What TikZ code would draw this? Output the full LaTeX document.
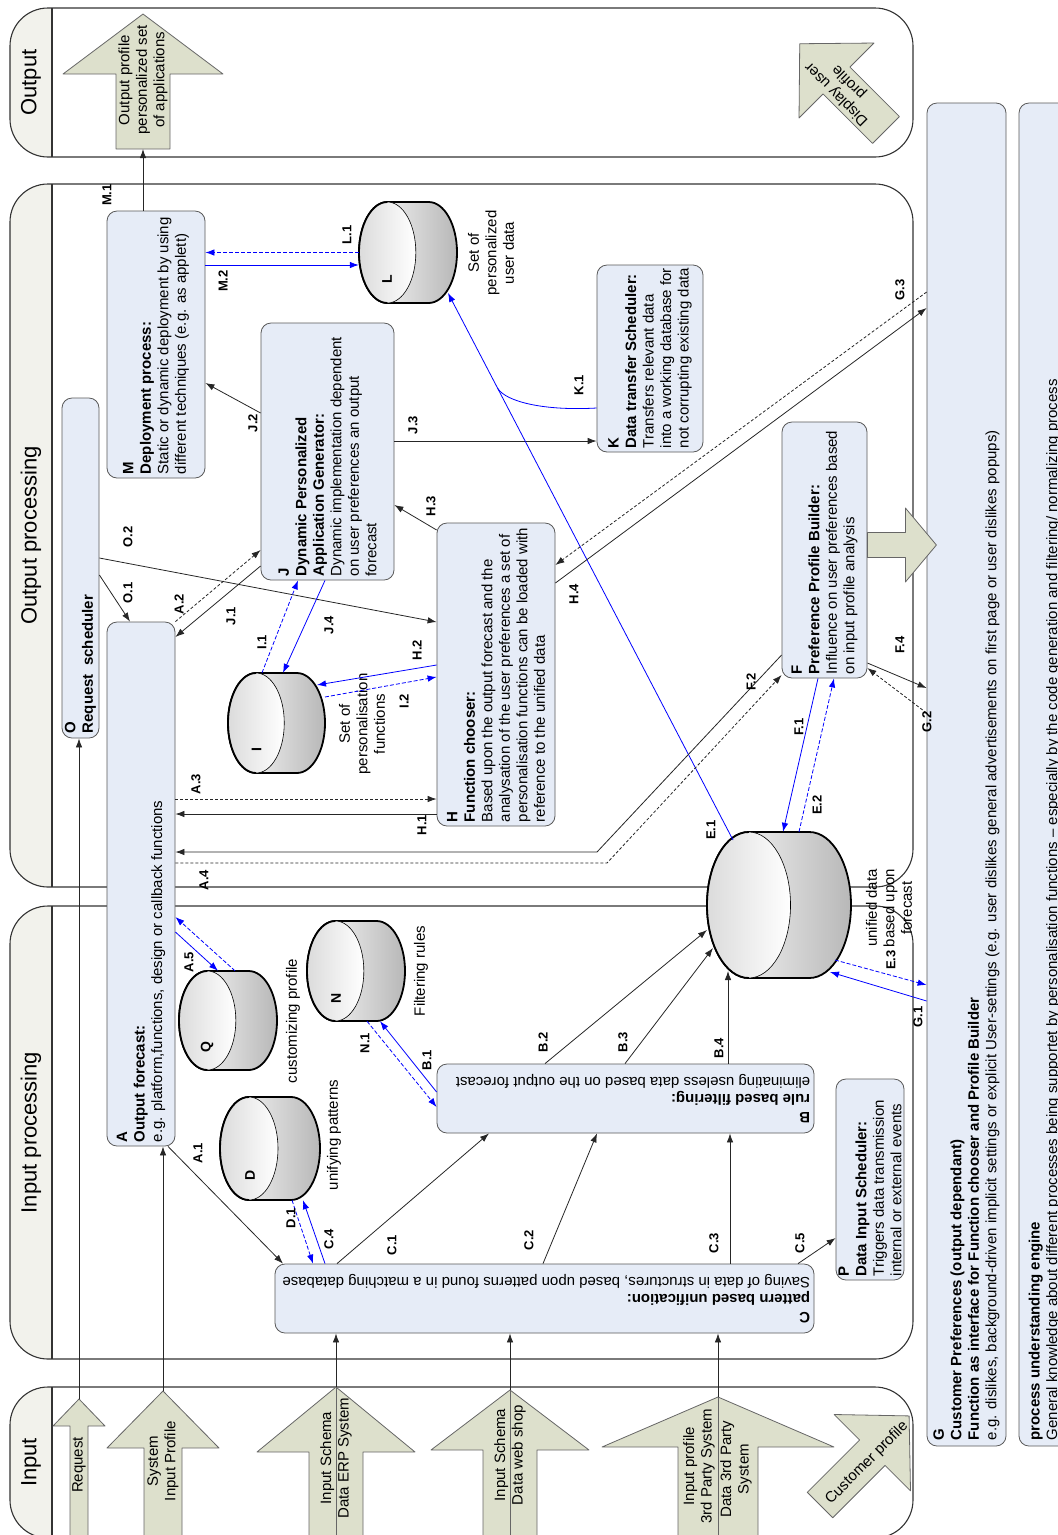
\documentclass[tikz,border=0pt]{standalone}
\usepackage{fontspec}
\setmainfont{Liberation Sans}
\usepackage{tikz}
\usetikzlibrary{arrows.meta}
\usetikzlibrary{calc}

\definecolor{boxblue}{RGB}{230,236,247}
\definecolor{arrowfill}{RGB}{221,224,204}
\definecolor{lanehead}{RGB}{242,242,236}

% database cylinder: name, left, top, width, height
\newcommand{\dbase}[5]{%
  \pgfmathsetmacro{\dba}{0.29*#4}%
  \pgfmathsetmacro{\dbb}{0.5*#5}%
  \draw[dbbody] ({#2+\dba},#3) -- ({#2+#4-\dba},#3)
    arc[start angle=90, end angle=-90, x radius=\dba pt, y radius=\dbb pt]
    -- ({#2+\dba},{#3+#5})
    arc[start angle=-90, end angle=-270, x radius=\dba pt, y radius=\dbb pt] -- cycle;
  \draw[dbface] ({#2+\dba},{#3+\dbb}) ellipse [x radius=\dba pt, y radius=\dbb pt];
  \draw[line width=1.8pt] ({#2+\dba},#3)
    arc[start angle=90, end angle=270, x radius=\dba pt, y radius=\dbb pt];
  \node[dbnode, minimum width=#4 pt, minimum height=#5 pt] (#1) at ({#2+0.5*#4},{#3+\dbb}) {};
}
% block arrow pointing up: tip x, tip y, head half, head base y, body half, bottom y
\newcommand{\blockup}[6]{%
  \draw[blockarr] (#1,#2) -- ({#1+#3},#4) -- ({#1+#5},#4) -- ({#1+#5},#6)
    -- ({#1-#5},#6) -- ({#1-#5},#4) -- ({#1-#3},#4) -- cycle;
}

\begin{document}
\begin{tikzpicture}[x=1pt, y=-1pt, >={Latex[length=9pt,width=6.5pt]}, line join=round]
  \tikzstyle{proc}=[draw=black!65, fill=boxblue, rounded corners=10pt, inner sep=0pt, line width=0.8pt]
  \tikzstyle{txt}=[rotate=90, anchor=west, align=left, inner sep=0pt, font=\fontsize{15}{17.5}\selectfont]
  \tikzstyle{utxt}=[rotate=180, anchor=west, align=left, inner sep=0pt, font=\fontsize{15}{17.5}\selectfont]
  \tikzstyle{ctext}=[align=center, inner sep=0pt, font=\fontsize{15}{17.5}\selectfont]
  \tikzstyle{captxt}=[ctext, rotate=90]
  \tikzstyle{lbl}=[rotate=90, inner sep=0pt, font=\fontsize{13}{15}\selectfont\bfseries]
  \tikzstyle{con}=[->, draw=black!85, line width=0.8pt]
  \tikzstyle{dcon}=[con, dash pattern=on 3pt off 2pt]
  \tikzstyle{bcon}=[->, draw=blue, line width=0.8pt]
  \tikzstyle{bdcon}=[bcon, dash pattern=on 4pt off 2pt]
  \tikzstyle{lane}=[draw=black!80, line width=1.1pt]
  \tikzstyle{blockarr}=[draw=black!60, fill=arrowfill, line width=0.8pt]
  \tikzstyle{dbbody}=[draw=black, line width=1.8pt, left color=white, right color=black!28]
  \tikzstyle{dbface}=[draw=black, line width=0.6pt, left color=black!14, right color=white]
  \tikzstyle{dbnode}=[inner sep=0pt]
  \tikzstyle{dbletter}=[rotate=90, font=\fontsize{14}{16}\selectfont\bfseries]

  \useasboundingbox (0,0) rectangle (1058,1535);

  % swimlanes
  \foreach \ya/\yb/\ttl in {8/157/Output, 184/887/Output processing, 906/1359/Input processing, 1387/1538/Input}{
    \begin{scope}
      \clip (10,\ya) rectangle (52,\yb);
      \fill[fill=lanehead, rounded corners=38pt] (10,\ya) rectangle (913,\yb);
    \end{scope}
    \draw[lane, rounded corners=38pt] (10,\ya) rectangle (913,\yb);
    \draw[lane] (52,\ya) -- (52,\yb);
    \node[rotate=90, font=\fontsize{22}{26}\selectfont] at (31,{(\ya+\yb)/2}) {\ttl};
  }

  % process boxes
  \node[proc, minimum width=98pt, minimum height=267pt] (M) at (156,344.5) {};
  \node[proc, minimum width=37pt, minimum height=340pt] (O) at (80.5,568) {};
  \node[proc, minimum width=68pt, minimum height=524pt] (A) at (141,884) {};
  \node[proc, minimum width=133pt, minimum height=257pt] (J) at (327.5,451.5) {};
  \node[proc, minimum width=118pt, minimum height=303pt] (H) at (496,674.5) {};
  \node[proc, minimum width=106pt, minimum height=187pt] (K) at (650,358.5) {};
  \node[proc, minimum width=85pt, minimum height=256pt] (F) at (824.5,550) {};
  \node[proc, minimum width=377pt, minimum height=69pt] (B) at (625.5,1098.5) {};
  \node[proc, minimum width=539pt, minimum height=69pt] (C) at (544.5,1298.5) {};
  \node[proc, minimum width=68pt, minimum height=201pt] (P) at (870,1179.5) {};
  \node[proc, minimum width=79pt, minimum height=1343pt] (G) at (966.5,774.5) {};
  \node[proc, minimum width=51pt, minimum height=1343pt] (PU) at (1044.5,774.5) {};

  \node[txt] at ($(M.south)+(0,-4)$) {\textbf{M}\\\textbf{Deployment process:}\\Static or dynamic deployment by using\\different techniques (e.g. as applett)};
  \node[txt] at ($(O.south)+(0,-5)$) {\textbf{O}\\\textbf{Request\ \ scheduler}};
  \node[txt] at ($(A.south)+(0,-4)$) {\textbf{A}\\\textbf{Output forecast:}\\e.g. platform,functions, design or callback functions};
  \node[txt] at ($(J.south)+(0,-4)$) {\textbf{J}\\\textbf{Dynamic Personalized}\\\textbf{Application Generator:}\\Dynamic implementation dependent\\on user preferences an output\\forecast};
  \node[txt] at ($(H.south)+(0,-4)$) {\textbf{H}\\\textbf{Function chooser:}\\Based upon the output forecast and the\\analysation of the user preferences a set of\\personalisation functions can be loaded with\\reference to the unified data};
  \node[txt] at ($(K.south)+(0,-4)$) {\textbf{K}\\\textbf{Data transfer Scheduler:}\\Transfers relevant data\\into a working database for\\not corrupting existing data};
  \node[txt] at ($(F.south)+(0,-4)$) {\textbf{F}\\\textbf{Preference Profile Builder:}\\Influence on user preferences based\\on input profile analysis};
  \node[txt] at ($(P.south)+(0,-4)$) {\textbf{P}\\\textbf{Data Input Scheduler:}\\Triggers data transmission\\internal or external events};
  \node[txt] at ($(G.south)+(0,-6)$) {\textbf{G}\\\textbf{Customer Preferences (output dependant)}\\\textbf{Function as interface for Function chooser and Profile Builder}\\e.g. dislikes, background-driven implicit settings or explicit User-settings (e.g. user dislikes general advertisements on first page or user dislikes popups)};
  \node[txt] at ($(PU.south)+(0,-6)$) {\textbf{process understanding engine}\\General knowledge about different processes being supportet by personalisation functions – especially by the code generation and filtering/ normalizing process};
  \node[utxt] at ($(B.east)+(-4,0)$) {\textbf{B}\\\textbf{rule based filtering:}\\eliminating useless data based on the output forecast};
  \node[utxt] at ($(C.east)+(-4,0)$) {\textbf{C}\\\textbf{pattern based unification:}\\Saving of data in structures, based upon patterns found in a matching database};

  % data stores
  \dbase{L}{359}{202}{98}{101}
  \dbase{I}{228}{673}{97}{100}
  \dbase{E}{707}{832}{144}{146}
  \dbase{Q}{179}{971}{98}{99}
  \dbase{N}{307}{921}{98}{100}
  \dbase{D}{220}{1097}{100}{103}
  \node[dbletter] at ($(L)+(-21,27)$) {L};
  \node[dbletter] at ($(I)+(-20,27)$) {I};
  \node[dbletter] at ($(Q)+(-21,27)$) {Q};
  \node[dbletter] at ($(N)+(-20,27)$) {N};
  \node[dbletter] at ($(D)+(-20,27)$) {D};
  \node[captxt] at (491,253) {Set of\\personalized\\user data};
  \node[captxt] at (362,724) {Set of\\personalisation\\functions};
  \node[captxt] at (889,908) {unified data\\based upon\\forecast};
  \node[captxt] at (293,1021) {customizing profile};
  \node[captxt] at (421,971) {Filtering rules};
  \node[captxt] at (334,1135) {unifying patterns};

  % block arrows
  \blockup{143}{14}{80}{74}{27}{149}
  \coordinate (outarr) at (143,149);
  \node[captxt] at (143,80) {Output profile\\personalized set\\of applications};
  \begin{scope}[shift={(886,130)}, rotate=45]
    \blockup{0}{-122}{53}{-70}{19}{0}
  \end{scope}
  \node[ctext, rotate=135] at (843,88) {Display user\\profile};
  \begin{scope}[shift={(F.east |- 0,545)}, rotate=-90]
    \blockup{0}{-69}{37}{-38}{12.5}{0}
  \end{scope}
  \blockup{79}{1399}{26}{1426}{9}{1545}
  \coordinate (req) at (79,1399);
  \node[captxt] at (79,1465) {Request};
  \blockup{163}{1391}{56}{1448}{19}{1545}
  \coordinate (sys) at (163,1391);
  \node[captxt] at (163,1461) {System\\Input Profile};
  \blockup{336}{1387}{79}{1452}{27}{1545}
  \coordinate (erp) at (336,1387);
  \draw[black!60, line width=0.8pt] (erp) -- (336,1545);
  \node[captxt] at (336,1458) {Input Schema\\Data ERP System};
  \blockup{510}{1390}{79}{1450}{27}{1545}
  \coordinate (web) at (510,1390);
  \draw[black!60, line width=0.8pt] (web) -- (510,1545);
  \node[captxt] at (510,1455) {Input Schema\\Data web shop};
  \blockup{718}{1397}{116}{1447}{40}{1545}
  \coordinate (third) at (718,1397);
  \draw[black!60, line width=0.8pt] (third) -- (718,1545);
  \node[captxt] at (699,1466) {Input profile\\3rd Party System};
  \node[captxt] at (736,1469) {Data 3rd Party\\System};
  \begin{scope}[shift={(820,1505)}, rotate=-45]
    \blockup{0}{-126}{54}{-74}{18}{0}
  \end{scope}
  \node[ctext, rotate=45] at (867,1463) {Customer profile};

  % connectors
  \coordinate (e1) at ($(E)+(-46,-65)$);
  \coordinate (l1) at ($(L)+(40,40.5)$);
  \coordinate (kjoin) at ($(e1)!0.826!(l1)$);

  \draw[con] (M.north -| outarr) -- (outarr);
  \draw[bdcon] (L.west) -- (M.east |- L.west);
  \draw[bcon] (M.east |- 0,265) -- (L.west |- 0,265);
  \draw[con] (J.west |- 0,413) -- (M.east |- 0,383);
  \draw[con] (J.east |- 0,441) -- (K.west |- 0,441);
  \draw[blue, line width=0.8pt] (K.west |- 0,408) .. controls (545,411) and (506,402) .. (kjoin);
  \draw[bcon] (e1) -- (l1);
  \draw[con] (H.west |- 0,530) -- (J.east |- 0,505);
  \draw[con] (H.east |- 0,583) -- (G.west |- 0,308);
  \draw[dcon] (G.west |- 0,292) -- (H.east |- 0,565);
  \draw[con] (O.east |- 0,575) -- (A.north -| 130,0);
  \draw[con] (O.east |- 0,558) -- (H.west |- 0,622);
  \draw[dcon] (A.north east) -- (J.west |- 0,550);
  \draw[con] (J.west |- 0,566) -- (A.east |- 0,637);
  \draw[bdcon] (I.north -| 262,0) -- (J.south -| 298,0);
  \draw[bcon] (J.south -| 325,0) -- (I.north -| 283,0);
  \draw[bcon] (H.west |- 0,665) -- ($(I)+(40.5,-38)$);
  \draw[bdcon] ($(I)+(48.5,-26)$) -- (H.west |- 0,677);
  \draw[dcon] (A.east |- 0,799) -- (H.west |- 0,799);
  \draw[con] (H.west |- 0,814) -- (A.east |- 0,814);
  \draw[con] (F.west |- 0,655) -- (597,852) -- (A.east |- 0,852);
  \draw[dcon] (A.east |- 0,863) -- (607,863) -- (F.west |- 0,675);
  \draw[bcon] (F.south -| 818,0) -- (E.north -| 783,0);
  \draw[bdcon] (E.north -| 799,0) -- (F.south -| 834,0);
  \draw[con] (F.east |- 0,663) -- (G.west |- 0,688);
  \draw[dcon] (G.west |- 0,713) -- (F.east |- 0,668);
  \draw[bdcon] ($(E)+(56,55)$) -- (G.west |- 0,985);
  \draw[bcon] (G.west |- 0,1001) -- ($(E)+(51,67)$);
  \draw[bcon] (A.east |- 0,932) -- (Q.north -| 218,0);
  \draw[bdcon] (Q.north -| 235,0) -- (A.east |- 0,917);
  \draw[bdcon] (N.south -| 367,0) -- (B.west |- 0,1107);
  \draw[bcon] (B.west |- 0,1092) -- (N.south -| 380,0);
  \draw[con] (B.north -| 545,0) -- ($(E)+(-72,25)$);
  \draw[con] (B.north -| 625,0) -- ($(E)+(-66,43)$);
  \draw[con] (B.north -| 728,0) -- ($(E)+(-51,66)$);
  \draw[con] (C.north -| 337,0) -- (B.south -| 489,0);
  \draw[con] (C.north -| 543,0) -- (B.south -| 597,0);
  \draw[con] (C.north -| 730,0) -- (B.south -| 730,0);
  \draw[con] (C.north -| 798,0) -- (P.west |- 0,1238);
  \draw[con] (A.south -| 168,0) -- (C.north -| 283,0);
  \draw[bdcon] (D.south -| 292,0) -- (C.north -| 313,0);
  \draw[bcon] (C.north -| 325,0) -- (D.south -| 303,0);
  \draw[con] (req) -- (O.south -| req);
  \draw[con] (sys) -- (A.south -| sys);
  \draw[con] (erp) -- (C.south -| erp);
  \draw[con] (web) -- (C.south -| web);
  \draw[con] (third) -- (C.south -| third);

  % connector labels
  \node[lbl] at (107,195) {M.1};
  \node[lbl] at (347,235) {L.1};
  \node[lbl] at (223,281) {M.2};
  \node[lbl] at (253,423) {J.2};
  \node[lbl] at (413,425) {J.3};
  \node[lbl] at (431,506) {H.3};
  \node[lbl] at (579,385) {K.1};
  \node[lbl] at (900,290) {G.3};
  \node[lbl] at (574,594) {H.4};
  \node[lbl] at (128,593) {O.1};
  \node[lbl] at (128,537) {O.2};
  \node[lbl] at (179,604) {A.2};
  \node[lbl] at (231,616) {J.1};
  \node[lbl] at (262,642) {I.1};
  \node[lbl] at (329,625) {J.4};
  \node[lbl] at (417,650) {H.2};
  \node[lbl] at (404,701) {I.2};
  \node[lbl] at (196,784) {A.3};
  \node[lbl] at (422,825) {H.1};
  \node[lbl] at (204,880) {A.4};
  \node[lbl] at (751,682) {F.2};
  \node[lbl] at (799,727) {F.1};
  \node[lbl] at (817,805) {E.2};
  \node[lbl] at (711,830) {E.1};
  \node[lbl] at (900,645) {F.4};
  \node[lbl] at (927,722) {G.2};
  \node[lbl] at (891,960) {E.3};
  \node[lbl] at (918,1017) {G.1};
  \node[lbl] at (189,962) {A.5};
  \node[lbl] at (365,1043) {N.1};
  \node[lbl] at (427,1060) {B.1};
  \node[lbl] at (198,1153) {A.1};
  \node[lbl] at (543,1042) {B.2};
  \node[lbl] at (623,1042) {B.3};
  \node[lbl] at (719,1048) {B.4};
  \node[lbl] at (392,1245) {C.1};
  \node[lbl] at (529,1240) {C.2};
  \node[lbl] at (714,1243) {C.3};
  \node[lbl] at (800,1243) {C.5};
  \node[lbl] at (291,1218) {D.1};
  \node[lbl] at (329,1239) {C.4};
\end{tikzpicture}
\end{document}
